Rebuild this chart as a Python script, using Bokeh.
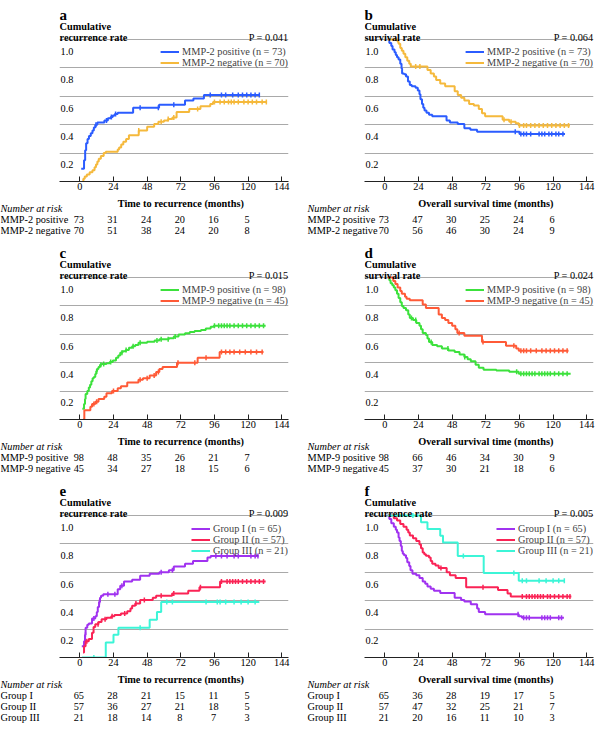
import numpy as np
from bokeh.plotting import figure
from bokeh.models import ColumnDataSource, Legend, LegendItem, FixedTicker, Range1d, Grid
from bokeh.layouts import column, row
from bokeh.embed import file_html
from bokeh.resources import INLINE
from bokeh.core.properties import value

# ---------------- data ----------------
tick_months = [0, 24, 48, 72, 96, 120, 144]
risk_months = [0, 24, 48, 72, 96, 120]
y_tick_values = [0.2, 0.4, 0.6, 0.8, 1.0]
y_tick_labels = ["0.2", "0.4", "0.6", "0.8", "1.0"]

# panel a : cumulative recurrence, MMP-2
a_pos_t = [1.0, 3.0, 3.8, 4.5, 5.5, 6.5, 7.8, 9.0, 10.0, 11.0, 12.5, 17.5, 20.0, 22.0, 23.5, 25.0, 27.0, 38.0, 56.5, 75.0, 81.0, 88.5]
a_pos_v = [0.09, 0.15, 0.22, 0.27, 0.30, 0.32, 0.34, 0.36, 0.38, 0.40, 0.415, 0.43, 0.445, 0.455, 0.465, 0.475, 0.485, 0.52, 0.54, 0.57, 0.585, 0.61]
a_pos_end = 128.5
a_pos_cens = [11.5, 19, 22.5, 25.5, 43, 56, 67, 93, 101, 104, 109, 113, 116, 119, 122, 125, 128]
a_neg_t = [1.8, 2.5, 3.5, 5.0, 7.0, 9.0, 10.5, 11.5, 12.5, 13.5, 15.0, 17.0, 18.5, 27.0, 28.0, 29.5, 31.0, 33.0, 35.0, 42.0, 48.0, 53.0, 56.0, 60.0, 63.0, 66.0, 69.0, 78.0, 86.0, 93.0, 95.0]
a_neg_v = [0.0, 0.02, 0.035, 0.05, 0.065, 0.08, 0.10, 0.12, 0.14, 0.16, 0.18, 0.20, 0.21, 0.225, 0.24, 0.26, 0.28, 0.30, 0.325, 0.36, 0.385, 0.405, 0.42, 0.43, 0.44, 0.45, 0.49, 0.51, 0.53, 0.545, 0.56]
a_neg_end = 133.5
a_neg_cens = [42, 58, 63, 67, 84, 96, 100, 103, 106, 108, 110, 113, 117, 120, 123, 126, 130, 133]
a_risk_pos = [73, 31, 24, 20, 16, 5]
a_risk_neg = [70, 51, 38, 24, 20, 8]

# panel b : cumulative survival, MMP-2
b_pos_t = [2.0, 3.2, 4.6, 5.5, 6.9, 7.8, 8.7, 9.8, 11.0, 11.9, 12.3, 13.7, 15.1, 16.5, 17.8, 19.2, 21.9, 23.5, 24.7, 25.4, 26.5, 27.4, 28.3, 29.7, 31.5, 33.8, 44.0, 46.4, 52.0, 56.7, 61.0, 65.8, 96.0]
b_pos_v = [1.0, 0.975, 0.955, 0.93, 0.91, 0.89, 0.875, 0.86, 0.83, 0.795, 0.76, 0.755, 0.74, 0.705, 0.68, 0.67, 0.66, 0.64, 0.615, 0.58, 0.545, 0.52, 0.50, 0.485, 0.47, 0.46, 0.43, 0.415, 0.405, 0.375, 0.365, 0.35, 0.335]
b_pos_end = 128.5
b_pos_cens = [93, 97, 99, 101, 104, 110, 112, 114, 117, 119, 122, 124, 127]
b_neg_t = [2.0, 9.1, 9.8, 11.0, 12.1, 13.3, 14.6, 16.0, 17.4, 18.5, 30.4, 32.7, 35.0, 36.6, 39.5, 43.0, 49.8, 52.0, 54.4, 56.7, 60.1, 63.5, 67.0, 69.3, 71.5, 84.0, 88.7, 93.3, 95.5]
b_neg_v = [1.0, 0.985, 0.97, 0.94, 0.92, 0.90, 0.875, 0.85, 0.83, 0.81, 0.785, 0.76, 0.74, 0.715, 0.69, 0.67, 0.635, 0.61, 0.59, 0.57, 0.545, 0.535, 0.51, 0.48, 0.46, 0.435, 0.42, 0.41, 0.395]
b_neg_end = 132.0
b_neg_cens = [22, 25, 85, 90, 96, 99, 101, 104, 107, 110, 113, 116, 119, 122, 125, 128, 131]
b_risk_pos = [73, 47, 30, 25, 24, 6]
b_risk_neg = [70, 56, 46, 30, 24, 9]

# panel c : cumulative recurrence, MMP-9
c_pos_t = [1.8, 3.0, 3.7, 4.1, 5.3, 6.4, 7.3, 8.2, 9.1, 10.0, 11.0, 11.7, 12.3, 13.3, 14.4, 15.5, 19.0, 21.3, 23.5, 25.8, 27.4, 28.8, 30.4, 32.7, 35.0, 37.3, 39.5, 41.8, 48.0, 53.3, 56.7, 63.5, 67.0, 70.4, 75.0, 78.4, 81.8, 86.4, 89.8, 93.3, 95.5]
c_pos_v = [0.075, 0.11, 0.145, 0.18, 0.20, 0.225, 0.245, 0.27, 0.29, 0.30, 0.32, 0.34, 0.355, 0.37, 0.385, 0.39, 0.397, 0.405, 0.415, 0.435, 0.45, 0.47, 0.48, 0.49, 0.505, 0.515, 0.525, 0.54, 0.548, 0.557, 0.566, 0.573, 0.584, 0.598, 0.607, 0.616, 0.623, 0.63, 0.64, 0.653, 0.66]
c_pos_end = 132.5
c_pos_cens = [12, 15, 17, 22, 30, 33, 38, 43, 55, 58, 63, 68, 96, 99, 101, 103, 105, 107, 110, 113, 116, 119, 122, 125, 128, 131]
c_neg_t = [2.3, 3.2, 7.5, 8.7, 11.0, 13.3, 17.4, 19.0, 22.9, 27.0, 29.3, 33.8, 41.8, 45.0, 49.8, 54.4, 56.7, 59.0, 69.3, 84.0, 99.7]
c_neg_v = [0.0, 0.065, 0.09, 0.11, 0.125, 0.145, 0.16, 0.185, 0.20, 0.22, 0.235, 0.26, 0.28, 0.29, 0.31, 0.335, 0.355, 0.37, 0.40, 0.435, 0.475]
c_neg_end = 131.0
c_neg_cens = [10, 12, 24, 43, 48, 53, 56, 70, 82, 90, 101, 104, 107, 110, 114, 118, 122, 126, 130]
c_risk_pos = [98, 48, 35, 26, 21, 7]
c_risk_neg = [45, 34, 27, 18, 15, 6]

# panel d : cumulative survival, MMP-9
d_pos_t = [2.0, 3.2, 4.1, 5.3, 6.4, 7.5, 8.7, 9.8, 11.0, 12.1, 13.3, 15.1, 16.7, 17.8, 20.1, 22.4, 24.7, 25.8, 27.0, 29.3, 30.4, 31.5, 33.8, 37.3, 40.7, 45.3, 49.8, 53.3, 56.7, 59.0, 61.3, 64.7, 67.0, 70.4, 79.5, 88.7, 95.5]
d_pos_v = [1.0, 0.98, 0.96, 0.945, 0.93, 0.91, 0.885, 0.855, 0.825, 0.80, 0.785, 0.77, 0.74, 0.715, 0.70, 0.68, 0.66, 0.635, 0.61, 0.595, 0.57, 0.545, 0.525, 0.515, 0.50, 0.486, 0.475, 0.457, 0.44, 0.425, 0.41, 0.385, 0.365, 0.35, 0.345, 0.336, 0.322]
d_pos_end = 132.5
d_pos_cens = [19, 22, 33, 45, 57, 94, 97, 99, 101, 103, 105, 107, 110, 112, 114, 116, 118, 121, 124, 127, 130]
d_neg_t = [2.0, 6.0, 7.5, 9.1, 11.0, 12.1, 14.4, 15.5, 17.8, 27.0, 29.3, 38.4, 40.7, 43.0, 45.3, 48.0, 50.3, 51.7, 56.7, 69.3, 86.4, 93.7, 95.5]
d_neg_v = [1.0, 0.975, 0.955, 0.93, 0.905, 0.885, 0.865, 0.85, 0.84, 0.81, 0.785, 0.74, 0.715, 0.70, 0.68, 0.66, 0.635, 0.61, 0.59, 0.545, 0.52, 0.50, 0.485]
d_neg_end = 131.0
d_neg_cens = [53, 70, 92, 97, 99, 101, 104, 108, 112, 115, 118, 121, 124, 127, 130]
d_risk_pos = [98, 66, 46, 34, 30, 9]
d_risk_neg = [45, 37, 30, 21, 18, 6]

# panel e : cumulative recurrence, groups
e_g1_t = [1.4, 3.0, 3.7, 4.1, 5.3, 6.4, 8.7, 11.0, 12.1, 12.8, 13.7, 14.4, 15.1, 16.7, 27.0, 28.8, 31.5, 37.3, 43.0, 49.8, 56.7, 63.5, 67.0, 75.0, 80.7, 91.0, 93.3]
e_g1_v = [0.08, 0.115, 0.16, 0.21, 0.23, 0.24, 0.275, 0.29, 0.32, 0.355, 0.39, 0.42, 0.435, 0.445, 0.48, 0.505, 0.535, 0.548, 0.575, 0.59, 0.60, 0.615, 0.64, 0.66, 0.68, 0.705, 0.715]
e_g1_end = 127.5
e_g1_cens = [4, 10, 14, 20, 25, 30, 58, 66, 97, 101, 105, 110, 113, 122, 125, 127]
e_g2_t = [2.3, 3.0, 4.1, 6.4, 8.7, 9.8, 11.0, 13.3, 15.5, 19.0, 22.4, 24.7, 29.3, 33.8, 36.1, 37.3, 39.5, 43.0, 52.0, 54.4, 65.8, 77.3, 85.3, 100.0]
e_g2_v = [0.035, 0.08, 0.115, 0.13, 0.175, 0.215, 0.235, 0.25, 0.27, 0.28, 0.29, 0.30, 0.31, 0.325, 0.345, 0.365, 0.38, 0.405, 0.42, 0.435, 0.45, 0.47, 0.495, 0.535]
e_g2_end = 132.5
e_g2_cens = [5, 13, 18, 23, 32, 40, 46, 58, 67, 86, 101, 105, 107, 109, 111, 113, 116, 119, 122, 125, 128, 131]
e_g3_t = [1.5, 18.5, 24.0, 27.5, 49.8, 55.0, 58.0]
e_g3_v = [0.0, 0.105, 0.16, 0.21, 0.265, 0.32, 0.39]
e_g3_end = 128.0
e_g3_cens = [10, 43, 62, 66, 90, 98, 100, 104, 110, 115, 120, 125]
e_risk_1 = [65, 28, 21, 15, 11, 5]
e_risk_2 = [57, 36, 27, 21, 18, 5]
e_risk_3 = [21, 18, 14, 8, 7, 3]

# panel f : overall survival, groups
f_g1_t = [2.0, 3.2, 4.6, 6.4, 7.8, 8.7, 9.8, 10.5, 11.4, 12.1, 12.8, 13.7, 15.1, 16.0, 17.4, 18.3, 19.7, 22.4, 24.7, 27.0, 28.8, 30.4, 32.7, 35.0, 39.5, 49.8, 54.4, 56.7, 61.3, 65.8, 67.0, 71.5, 95.5, 97.8]
f_g1_v = [1.0, 0.975, 0.945, 0.92, 0.90, 0.88, 0.845, 0.82, 0.785, 0.75, 0.73, 0.72, 0.70, 0.67, 0.645, 0.615, 0.59, 0.58, 0.56, 0.535, 0.52, 0.50, 0.485, 0.47, 0.455, 0.42, 0.405, 0.395, 0.375, 0.345, 0.32, 0.305, 0.29, 0.28]
f_g1_end = 127.7
f_g1_cens = [95, 99, 101, 103, 112, 114, 116, 118, 124, 126]
f_g2_t = [2.0, 6.4, 8.7, 11.0, 13.3, 15.5, 16.7, 17.8, 20.1, 22.4, 24.7, 25.8, 27.0, 28.1, 29.3, 31.5, 32.7, 33.8, 36.1, 38.4, 44.1, 46.4, 50.5, 58.0, 80.7, 87.5, 89.8]
f_g2_v = [1.0, 0.98, 0.965, 0.94, 0.92, 0.90, 0.88, 0.86, 0.84, 0.82, 0.795, 0.77, 0.74, 0.727, 0.716, 0.705, 0.68, 0.66, 0.648, 0.63, 0.60, 0.58, 0.56, 0.495, 0.475, 0.45, 0.43]
f_g2_end = 133.0
f_g2_cens = [40, 70, 98, 101, 103, 105, 107, 109, 111, 113, 116, 118, 121, 124, 127, 130, 132]
f_g3_t = [2.0, 25.8, 30.4, 39.5, 41.5, 52.0, 70.5, 95.5]
f_g3_v = [1.0, 0.952, 0.905, 0.857, 0.81, 0.714, 0.595, 0.54]
f_g3_end = 128.0
f_g3_cens = [20, 56, 92, 98, 101, 110, 115, 120, 124, 128]
f_risk_1 = [65, 36, 28, 19, 17, 5]
f_risk_2 = [57, 47, 32, 25, 21, 7]
f_risk_3 = [21, 20, 16, 11, 10, 3]

# ---------------- style / layout ----------------
FONT = "Liberation Serif"
FS = "10.3px"
BLUE, YELLOW = "#2b5cff", "#f5b93c"
GREEN, ORANGE = "#3ce13c", "#ff5a37"
PURPLE, CRIMSON, CYAN = "#a032f0", "#fa2355", "#3cf5d7"

X0, X1 = -14.5, 148.8
FW = 229                  # plot frame width (px)
MB = 181                  # baseline (y = 0) in px from panel top
L1 = 39.0                 # y = 1.0 line in px from panel top
KY = MB - L1              # px per unit of rate
Y1 = MB / KY              # frame reaches up to the panel top
KX = FW / (X1 - X0)       # px per month
AXB = 14                  # room for tick labels under the axis


def add_text(p, xs, ys, texts, align="left", size=FS, style="normal", x_offset=0):
    src = ColumnDataSource(dict(x=list(xs), y=list(ys), t=list(texts)))
    p.text(x="x", y="y", text="t", source=src,
           text_font=value(FONT), text_font_size=value(size),
           text_font_style=value(style), text_align=value(align),
           text_baseline=value("alphabetic"), text_color="black",
           x_offset=x_offset)


def curve(t, v, end, cens, color, label):
    return dict(t=t, v=v, end=end, cens=cens, color=color, label=label)


def panel(letter, line2, pval, xtitle, curves, rows, left, height):
    FL = 59 if left else 67
    FR = 9 if left else 4
    W = FL + FW + FR
    # ---- main figure: headings + curves + x axis
    p = figure(width=W, height=MB + AXB,
               x_range=Range1d(X0, X1), y_range=Range1d(0, Y1),
               output_backend="svg", toolbar_location=None, y_axis_location=None,
               min_border_left=FL, min_border_right=FR, min_border_top=0,
               min_border_bottom=AXB)
    p.outline_line_color = None
    p.xgrid.visible = False
    p.ygrid.visible = False
    p.add_layout(Grid(dimension=1, ticker=FixedTicker(ticks=y_tick_values),
                      grid_line_color="#a9a9a9", grid_line_width=1))
    ax = p.xaxis[0]
    ax.ticker = FixedTicker(ticks=tick_months)
    ax.major_label_text_font = FONT
    ax.major_label_text_font_size = FS
    ax.major_label_text_color = "black"
    ax.major_tick_in = 5
    ax.major_tick_out = 0
    ax.minor_tick_line_color = None
    ax.axis_line_color = "#222222"
    ax.major_tick_line_color = "#222222"
    ax.major_label_standoff = 1

    items = []
    for c in curves:
        n = min(len(c["t"]), len(c["v"]))
        t = list(c["t"][:n])
        v = list(c["v"][:n])
        src = ColumnDataSource(dict(x=t + [c["end"]], y=v + [v[-1]]))
        r = p.step("x", "y", source=src, mode="after", line_color=c["color"], line_width=2)
        idx = np.clip(np.searchsorted(t, c["cens"], side="right") - 1, 0, n - 1)
        p.scatter(list(c["cens"]), [v[i] for i in idx], marker="dash", angle=np.pi / 2,
                  size=5, line_color=c["color"], line_width=1.5)
        items.append(LegendItem(label=c["label"], renderers=[r]))

    lg = Legend(items=items, location="top_right", background_fill_alpha=0,
                border_line_color=None, label_text_font=FONT, label_text_font_size=FS,
                glyph_width=19, glyph_height=11, label_height=11, label_standoff=3,
                spacing=-1, padding=0, margin=0, title=" ", title_text_font=FONT,
                title_text_font_size="36px", title_standoff=4 if len(curves) == 2 else 5)
    p.add_layout(lg)

    # headings
    add_text(p, [X0], [1 + 25 / KY], [letter], size="15px", style="bold")
    add_text(p, [X0, X0], [1 + 13 / KY, 1 + 2.5 / KY], ["Cumulative", line2], style="bold")
    add_text(p, [X1], [1 + 2.5 / KY], [pval], align="right")
    # y tick labels (below each grid line)
    add_text(p, [X0 + 1 / KX] * len(y_tick_values),
             [yv - 11.7 / KY for yv in y_tick_values], y_tick_labels)

    # ---- footer figure: axis title + number at risk (px from its top)
    HF = height - (MB + AXB)
    f = figure(width=W, height=HF,
               x_range=Range1d(X0 - FL / KX, X1 + FR / KX), y_range=Range1d(HF, 0),
               output_backend="svg", toolbar_location=None,
               x_axis_location=None, y_axis_location=None,
               min_border_left=0, min_border_right=0, min_border_top=0, min_border_bottom=0)
    f.outline_line_color = None
    f.grid.visible = False
    xrow = X0 - FL / KX + (0 if left else 10) / KX
    add_text(f, [tick_months[3]], [22 - AXB], [xtitle], align="center", style="bold")
    add_text(f, [xrow], [26.5 - AXB], ["Number at risk"], style="italic")
    for i, (lab, nums) in enumerate(rows):
        yy = 37.5 + 11 * i - AXB
        add_text(f, [xrow], [yy], [lab])
        add_text(f, risk_months, [yy] * len(nums), [str(k) for k in nums],
                 align="center", x_offset=-1)
    return p, f


ma, fa = panel("a", "recurrence rate", "P = 0.041", "Time to recurrence (months)",
               [curve(a_pos_t, a_pos_v, a_pos_end, a_pos_cens, BLUE, "MMP-2 positive (n = 73)"),
                curve(a_neg_t, a_neg_v, a_neg_end, a_neg_cens, YELLOW, "MMP-2 negative (n = 70)")],
               [("MMP-2 positive", a_risk_pos), ("MMP-2 negative", a_risk_neg)], True, 238)
mb, fb = panel("b", "survival rate", "P = 0.064", "Overall survival time (months)",
               [curve(b_pos_t, b_pos_v, b_pos_end, b_pos_cens, BLUE, "MMP-2 positive (n = 73)"),
                curve(b_neg_t, b_neg_v, b_neg_end, b_neg_cens, YELLOW, "MMP-2 negative (n = 70)")],
               [("MMP-2 positive", b_risk_pos), ("MMP-2 negative", b_risk_neg)], False, 238)
mc, fc = panel("c", "recurrence rate", "P = 0.015", "Time to recurrence (months)",
               [curve(c_pos_t, c_pos_v, c_pos_end, c_pos_cens, GREEN, "MMP-9 positive (n = 98)"),
                curve(c_neg_t, c_neg_v, c_neg_end, c_neg_cens, ORANGE, "MMP-9 negative (n = 45)")],
               [("MMP-9 positive", c_risk_pos), ("MMP-9 negative", c_risk_neg)], True, 238)
md, fd = panel("d", "survival rate", "P = 0.024", "Overall survival time (months)",
               [curve(d_pos_t, d_pos_v, d_pos_end, d_pos_cens, GREEN, "MMP-9 positive (n = 98)"),
                curve(d_neg_t, d_neg_v, d_neg_end, d_neg_cens, ORANGE, "MMP-9 negative (n = 45)")],
               [("MMP-9 positive", d_risk_pos), ("MMP-9 negative", d_risk_neg)], False, 238)
me, fe = panel("e", "recurrence rate", "P = 0.009", "Time to recurrence (months)",
               [curve(e_g1_t, e_g1_v, e_g1_end, e_g1_cens, PURPLE, "Group I (n = 65)"),
                curve(e_g2_t, e_g2_v, e_g2_end, e_g2_cens, CRIMSON, "Group II (n = 57)"),
                curve(e_g3_t, e_g3_v, e_g3_end, e_g3_cens, CYAN, "Group III (n = 21)")],
               [("Group I", e_risk_1), ("Group II", e_risk_2), ("Group III", e_risk_3)], True, 248)
mf, ff = panel("f", "recurrence rate", "P = 0.005", "Overall survival time (months)",
               [curve(f_g1_t, f_g1_v, f_g1_end, f_g1_cens, PURPLE, "Group I (n = 65)"),
                curve(f_g2_t, f_g2_v, f_g2_end, f_g2_cens, CRIMSON, "Group II (n = 57)"),
                curve(f_g3_t, f_g3_v, f_g3_end, f_g3_cens, CYAN, "Group III (n = 21)")],
               [("Group I", f_risk_1), ("Group II", f_risk_2), ("Group III", f_risk_3)], False, 248)

layout = column(row(ma, mb), row(fa, fb), row(mc, md), row(fc, fd), row(me, mf), row(fe, ff))
open("out.html", "w").write(file_html(layout, INLINE))
